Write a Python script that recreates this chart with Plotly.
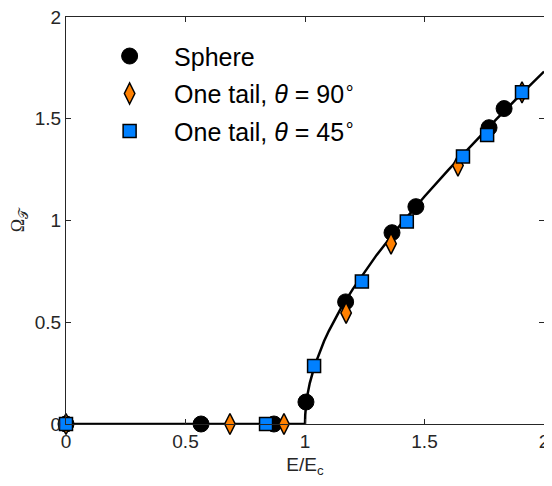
import plotly.graph_objects as go

# Theory curve
curve_E = [0, 1.0, 1.001, 1.0025, 1.005, 1.01, 1.02, 1.04, 1.06, 1.08, 1.10, 1.15, 1.20,
           1.30, 1.40, 1.50, 1.60, 1.70, 1.80, 1.90, 2.00]
curve_W = [0, 0.0, 0.045, 0.071, 0.100, 0.142, 0.201, 0.286, 0.352, 0.408, 0.458, 0.568, 0.663,
           0.831, 0.980, 1.118, 1.249, 1.375, 1.497, 1.616, 1.732]

sphere_E = [0, 0.565, 0.87, 1.004, 1.17, 1.364, 1.464, 1.77, 1.833]
sphere_W = [0, 0, 0, 0.108, 0.60, 0.94, 1.068, 1.456, 1.55]

tail90_E = [0, 0.686, 0.912, 1.172, 1.36, 1.64, 1.908]
tail90_W = [0, 0, 0, 0.546, 0.886, 1.27, 1.63]

tail45_E = [0, 0.837, 1.038, 1.238, 1.426, 1.661, 1.762, 1.908]
tail45_W = [0, 0, 0.285, 0.70, 0.995, 1.315, 1.42, 1.63]

tick_vals = [0, 0.5, 1, 1.5, 2]
tick_text = ["0", "0.5", "1", "1.5", "2"]

axis_col = "#262626"
fig = go.Figure()
fig.add_trace(go.Scatter(x=curve_E, y=curve_W, mode="lines", cliponaxis=False,
                         line=dict(color="black", width=2.5), showlegend=False))
fig.add_trace(go.Scatter(x=sphere_E, y=sphere_W, mode="markers", name="Sphere",
                         legendgroup="a", cliponaxis=False,
                         marker=dict(symbol="circle", size=16, color="black",
                                     line=dict(color="black", width=1))))
fig.add_trace(go.Scatter(x=tail90_E, y=tail90_W, mode="markers", cliponaxis=False,
                         name="One tail, <i>θ</i> = 90<sup>∘</sup>", legendgroup="b",
                         marker=dict(symbol="diamond-tall", size=15, color="#FF8000",
                                     line=dict(color="black", width=1.5))))
fig.add_trace(go.Scatter(x=tail45_E, y=tail45_W, mode="markers", cliponaxis=False,
                         name="One tail, <i>θ</i> = 45<sup>∘</sup>", legendgroup="c",
                         marker=dict(symbol="square", size=13, color="#0080FF",
                                     line=dict(color="black", width=1.5))))

# the page body adds an 8px offset; margins compensate for it
fig.update_layout(
    width=552, height=486,
    margin=dict(l=58, r=16, t=9, b=70),
    paper_bgcolor="white", plot_bgcolor="white",
    font=dict(family="Liberation Sans, Arial", size=19, color=axis_col),
    legend=dict(x=0.04, y=0.96, xanchor="left", yanchor="top",
                bgcolor="rgba(0,0,0,0)", tracegroupgap=2,
                font=dict(size=25, color="black"), itemwidth=79),
    xaxis=dict(range=[0, 2], tickvals=tick_vals, ticktext=tick_text,
               ticks="inside", ticklen=5, tickcolor=axis_col, automargin=False,
               ticklabeloverflow="allow",
               showline=True, linecolor=axis_col, linewidth=1, mirror="ticks",
               showgrid=False, zeroline=False,
               title=dict(text="E/E<sub>c</sub>", standoff=6,
                          font=dict(size=19, color=axis_col))),
    yaxis=dict(range=[0, 2], tickvals=tick_vals, ticktext=tick_text,
               ticks="inside", ticklen=5, tickcolor=axis_col, automargin=False,
               ticklabeloverflow="allow",
               showline=True, linecolor=axis_col, linewidth=1, mirror="ticks",
               showgrid=False, zeroline=False,
               title=dict(text="Ω<sub>𝒯</sub>", standoff=16,
                          font=dict(family="Liberation Serif, Times New Roman", size=18,
                                    color=axis_col))),
)
fig.write_html("out.html")
